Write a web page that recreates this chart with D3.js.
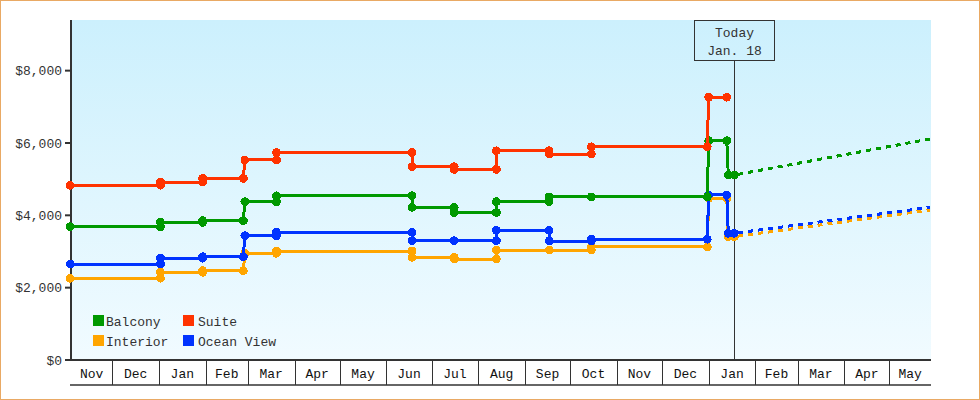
<!DOCTYPE html>
<html>
<head>
<meta charset="utf-8">
<script src="https://cdn.jsdelivr.net/npm/d3@7"></script>
<style>
  body { margin: 0; background: #fff; }
  text { font-family: "Liberation Mono", "DejaVu Sans Mono", monospace; font-size: 13px; fill: #333; }
</style>
</head>
<body>
<script>
var width = 980,
    height = 400,
    margin = {top: 20, right: 49, bottom: 40, left: 71};

// observation dates (a date appears twice when the price changed that day)
var dates = ["2021-11-03", "2022-01-02", "2022-01-02", "2022-01-30", "2022-01-30",
  "2022-02-26", "2022-02-27", "2022-03-20", "2022-03-20", "2022-06-18", "2022-06-18",
  "2022-07-16", "2022-07-16", "2022-08-13", "2022-08-13", "2022-09-17", "2022-09-17",
  "2022-10-15", "2022-10-15", "2022-12-31", "2023-01-01", "2023-01-13", "2023-01-14",
  "2023-01-18"];

var suite = [4830, 4830, 4920, 4920, 5020, 5020, 5530, 5530, 5735, 5735, 5345,
  5345, 5270, 5270, 5785, 5785, 5695, 5695, 5895, 5895, 7265, 7265, null, null];
var balcony = [3686, 3686, 3806, 3806, 3855, 3855, 4377, 4377, 4540, 4540, 4220,
  4220, 4078, 4078, 4377, 4377, 4510, 4510, 4510, 4510, 6063, 6063, 5115, 5115];
var oceanView = [2654, 2654, 2815, 2815, 2856, 2856, 3437, 3437, 3530, 3530, 3299,
  3299, 3299, 3299, 3585, 3585, 3290, 3290, 3340, 3340, 4562, 4562, 3503, 3503];
var interior = [2259, 2259, 2425, 2425, 2470, 2470, 2950, 2950, 3013, 3013, 2839,
  2839, 2792, 2792, 3041, 3041, 3041, 3041, 3125, 3125, 4470, 4470, 3409, 3409];

// projected prices after today
var forecastDates = ["2023-01-18", "2023-05-28"];
var balconyForecast = [5115, 6110];
var oceanViewForecast = [3503, 4222];
var interiorForecast = [3409, 4147];

var yTicks = [0, 2000, 4000, 6000, 8000];
var today = "2023-01-18";
var todayLabel = ["Today", "Jan. 18"];

var parse = d3.utcParse("%Y-%m-%d");

var series = [
  {name: "Interior", color: "#ffa500", values: interior, forecast: interiorForecast},
  {name: "Ocean View", color: "#0033ff", values: oceanView, forecast: oceanViewForecast},
  {name: "Balcony", color: "#009900", values: balcony, forecast: balconyForecast},
  {name: "Suite", color: "#ff3300", values: suite, forecast: null}
];
var legendOrder = ["Balcony", "Suite", "Interior", "Ocean View"];

var x = d3.scaleUtc()
    .domain([new Date(Date.UTC(2021, 10, 3, 14)), new Date(Date.UTC(2023, 4, 28, 14))])
    .range([margin.left, width - margin.right]);

var y = d3.scaleLinear()
    .domain([0, 9400])
    .range([height - margin.bottom, margin.top]);

var svg = d3.select("body").append("svg")
    .attr("width", width)
    .attr("height", height);

var grad = svg.append("defs").append("linearGradient")
    .attr("id", "bg")
    .attr("x1", 0).attr("y1", 0).attr("x2", 0).attr("y2", 1);
grad.append("stop").attr("offset", "0%").attr("stop-color", "#ccf0fd");
grad.append("stop").attr("offset", "100%").attr("stop-color", "#f1fbff");

// outer frame
svg.append("rect")
    .attr("x", 0.5).attr("y", 0.5)
    .attr("width", width - 1).attr("height", height - 1)
    .attr("fill", "none")
    .attr("stroke", "#e9a964");

svg.append("rect")
    .attr("x", x.range()[0]).attr("y", y.range()[1])
    .attr("width", x.range()[1] - x.range()[0])
    .attr("height", y.range()[0] - y.range()[1])
    .attr("fill", "url(#bg)");

// y axis
var yAxis = svg.append("g");
yAxis.append("line")
    .attr("x1", x.range()[0]).attr("x2", x.range()[0])
    .attr("y1", y.range()[1]).attr("y2", y.range()[0] + 1)
    .attr("stroke", "#333").attr("stroke-width", 2);
yAxis.selectAll(".tick")
    .data(yTicks)
  .enter().append("line")
    .attr("x1", x.range()[0] - 6).attr("x2", x.range()[0])
    .attr("y1", function(d) { return y(d); })
    .attr("y2", function(d) { return y(d); })
    .attr("stroke", "#333").attr("stroke-width", 2);
yAxis.selectAll(".label")
    .data(yTicks)
  .enter().append("text")
    .attr("x", x.range()[0] - 9)
    .attr("y", function(d) { return y(d); })
    .attr("dy", "0.35em")
    .attr("text-anchor", "end")
    .text(function(d) { return "$" + d3.format(",")(d); });

// x axis: one cell per month
var x0 = x.domain()[0], x1 = x.domain()[1];
var bounds = d3.utcMonth.range(d3.utcMonth.ceil(x0), x1);
var cells = [x0].concat(bounds).map(function(d, i, arr) {
  return [d, i < arr.length - 1 ? arr[i + 1] : x1];
});
var base = y.range()[0];
var xAxis = svg.append("g");
xAxis.append("line")
    .attr("x1", x.range()[0] - 1).attr("x2", x.range()[1])
    .attr("y1", base).attr("y2", base)
    .attr("stroke", "#333").attr("stroke-width", 2);
xAxis.append("line")
    .attr("x1", x.range()[0] - 1).attr("x2", x.range()[1])
    .attr("y1", base + 25).attr("y2", base + 25)
    .attr("stroke", "#333").attr("stroke-width", 1.5);
xAxis.selectAll(".sep")
    .data(bounds)
  .enter().append("line")
    .attr("x1", function(d) { return Math.round(x(d)) + 0.5; })
    .attr("x2", function(d) { return Math.round(x(d)) + 0.5; })
    .attr("y1", base).attr("y2", base + 25)
    .attr("stroke", "#333");
xAxis.selectAll(".month")
    .data(cells)
  .enter().append("text")
    .attr("x", function(d) { return (x(d[0]) + x(d[1])) / 2; })
    .attr("y", base + 13)
    .attr("dy", "0.35em")
    .attr("text-anchor", "middle")
    .style("fill", "#111")
    .text(function(d) { return d3.utcFormat("%b")(d[0]); });

// today marker
var tx = Math.round(x(parse(today))) + 0.5;
svg.append("line")
    .attr("x1", tx).attr("x2", tx)
    .attr("y1", margin.top + 40).attr("y2", base)
    .attr("stroke", "#333");
svg.append("rect")
    .attr("x", tx - 40).attr("y", margin.top + 0.5)
    .attr("width", 80).attr("height", 40)
    .attr("fill", "none")
    .attr("stroke", "#333");
svg.selectAll(".today")
    .data(todayLabel)
  .enter().append("text")
    .attr("x", tx)
    .attr("y", function(d, i) { return margin.top + 17 + i * 18; })
    .attr("text-anchor", "middle")
    .text(function(d) { return d; });

var line = d3.line()
    .defined(function(d) { return d[1] != null; })
    .x(function(d) { return x(d[0]); })
    .y(function(d) { return y(d[1]); });

var plot = svg.append("g").attr("shape-rendering", "crispEdges");

// dotted forecasts first, under the history
series.forEach(function(s) {
  if (!s.forecast) return;
  var pts = forecastDates.map(function(d, i) { return [parse(d), s.forecast[i]]; });
  plot.append("path")
      .attr("d", line(pts))
      .attr("fill", "none")
      .attr("stroke", s.color)
      .attr("stroke-width", 3)
      .attr("stroke-dasharray", "5,5")
      .attr("stroke-dashoffset", -4);
});

series.forEach(function(s) {
  var pts = dates.map(function(d, i) { return [parse(d), s.values[i]]; });
  plot.append("path")
      .attr("d", line(pts))
      .attr("fill", "none")
      .attr("stroke", s.color)
      .attr("stroke-width", 3);
  plot.selectAll(null)
      .data(pts.filter(function(p) { return p[1] != null; }))
    .enter().append("circle")
      .attr("cx", function(d) { return x(d[0]); })
      .attr("cy", function(d) { return y(d[1]); })
      .attr("r", 4.4)
      .attr("fill", s.color);
});

// legend
var legend = svg.append("g");
var item = legend.selectAll("g")
    .data(legendOrder)
  .enter().append("g")
    .attr("transform", function(d, i) {
      return "translate(" + (93 + (i % 2) * 90) + "," + (315 + Math.floor(i / 2) * 20) + ")";
    });
item.append("rect")
    .attr("width", 11).attr("height", 11)
    .attr("fill", function(d) {
      return series.find(function(s) { return s.name === d; }).color;
    });
item.append("text")
    .attr("x", function(d, i) { return i % 2 ? 15 : 13; })
    .attr("y", 6)
    .attr("dy", "0.35em")
    .text(function(d) { return d; });
</script>
</body>
</html>
